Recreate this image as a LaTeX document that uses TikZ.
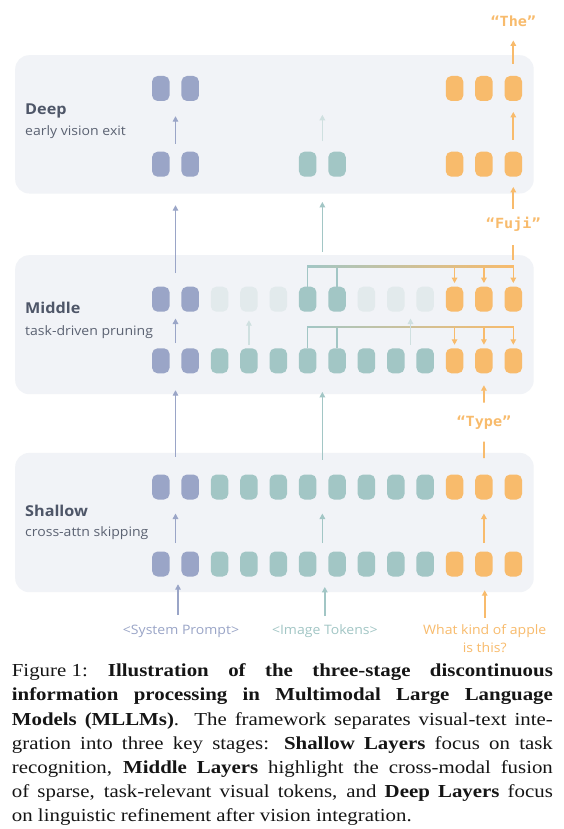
\documentclass[tikz,border=0pt]{standalone}
\usepackage{fontspec}
\usetikzlibrary{arrows.meta,calc}
\newfontfamily\dfont{Open Sans}[FakeStretch=1.08]
\newfontfamily\mfont{DejaVu Sans Mono}[FakeStretch=1.08]
\newfontfamily\capfont{Liberation Serif}[FakeStretch=1.14]
\definecolor{boxbg}{HTML}{F1F3F7}
\definecolor{tokB}{HTML}{9AA5C7}
\definecolor{tokT}{HTML}{A2C6C5}
\definecolor{tokO}{HTML}{F8BB6C}
\definecolor{tokF}{HTML}{E2EAEC}
\definecolor{fArr}{HTML}{CFE0E0}
\definecolor{ttlc}{HTML}{4E5668}
\definecolor{subc}{HTML}{5B6272}
\definecolor{capc}{HTML}{151515}
\begin{document}
\begin{tikzpicture}[x=1pt,y=-1pt,
  tok/.style={rectangle, rounded corners=5.5pt, minimum width=17.5pt, minimum height=25pt, inner sep=0pt, draw=none},
  stagebox/.style={rectangle, rounded corners=14pt, fill=boxbg, draw=none, minimum width=518.5pt, inner sep=0pt, anchor=north west},
  arr/.style={line width=1.7pt, -{Triangle[length=5.5pt,width=5.5pt]}},
  barr/.style={arr, draw=tokB},
  tarr/.style={arr, draw=tokT},
  oarr/.style={arr, draw=tokO},
  farr/.style={arr, draw=fArr, line width=1.3pt},
  tline/.style={draw=tokT, line width=1.3pt},
  oline/.style={draw=tokO, line width=1.7pt},
  ttl/.style={font=\dfont\bfseries\fontsize{15}{16}\selectfont, text=ttlc, anchor=base west, inner sep=0pt},
  subl/.style={font=\dfont\fontsize{13}{15}\selectfont, text=subc, anchor=base west, inner sep=0pt},
  inlab/.style={font=\dfont\fontsize{13}{16}\selectfont, anchor=base, inner sep=0pt},
  qlab/.style={font=\mfont\bfseries\fontsize{14}{16}\selectfont, text=tokO, anchor=base, inner sep=0pt}
]
\useasboundingbox (0,0) rectangle (563,829);
\fill[white] (0,0) rectangle (563,829);

% stage boxes
\node[stagebox, minimum height=138.3pt] (deep) at (15,55) {};
\node[stagebox, minimum height=139pt] (middle) at (15,255) {};
\node[stagebox, minimum height=139.3pt] (shallow) at (15,452.7) {};

% stage titles
\node[ttl] (tDeep) at (25,114.3) {Deep};
\node[subl] (sDeep) at (25,135.7) {early vision exit};
\node[ttl] (tMid) at (25,313.3) {Middle};
\node[subl] (sMid) at (25,335) {task-driven pruning};
\node[ttl] (tSha) at (25,516.7) {Shallow};
\node[subl] (sSha) at (25,536.7) {cross-attn skipping};

% tokens
\foreach \k/\c in {0/tokB,1/tokB,10/tokO,11/tokO,12/tokO}
  \node[tok, fill=\c] (dT\k) at ({160.8+29.375*\k},88.5) {};
\foreach \k/\c in {0/tokB,1/tokB,5/tokT,6/tokT,10/tokO,11/tokO,12/tokO}
  \node[tok, fill=\c] (dB\k) at ({160.8+29.375*\k},164.2) {};
\foreach \k/\c in {0/tokB,1/tokB,2/tokF,3/tokF,4/tokF,5/tokT,6/tokT,7/tokF,8/tokF,9/tokF,10/tokO,11/tokO,12/tokO}
  \node[tok, fill=\c] (mT\k) at ({160.8+29.375*\k},299.2) {};
\foreach \k/\c in {0/tokB,1/tokB,2/tokT,3/tokT,4/tokT,5/tokT,6/tokT,7/tokT,8/tokT,9/tokT,10/tokO,11/tokO,12/tokO}
  \node[tok, fill=\c] (mB\k) at ({160.8+29.375*\k},360.8) {};
\foreach \k/\c in {0/tokB,1/tokB,2/tokT,3/tokT,4/tokT,5/tokT,6/tokT,7/tokT,8/tokT,9/tokT,10/tokO,11/tokO,12/tokO}
  \node[tok, fill=\c] (sT\k) at ({160.8+29.375*\k},487) {};
\foreach \k/\c in {0/tokB,1/tokB,2/tokT,3/tokT,4/tokT,5/tokT,6/tokT,7/tokT,8/tokT,9/tokT,10/tokO,11/tokO,12/tokO}
  \node[tok, fill=\c] (sB\k) at ({160.8+29.375*\k},564) {};

% quoted output words
\node[qlab] (qThe) at (513.3,26.5) {“The”};
\node[qlab] (qFuji) at (513.3,228) {“Fuji”};
\node[qlab] (qType) at (483.9,426.5) {“Type”};

% input labels
\node[inlab, text=tokB] (ipS) at (181,634) {<System Prompt>};
\node[inlab, text=tokT] (ipI) at (324.8,634) {<Image Tokens>};
\node[inlab, text=tokO] (ipQ) at (484.7,634) {What kind of apple};
\node[inlab, text=tokO] (ipQb) at (484.7,652) {is this?};

% ---- Deep stage arrows
\draw[barr, shorten <=7.7pt, shorten >=15pt] ($(dB0.north)!.5!(dB1.north)$) -- ($(dT0.south)!.5!(dT1.south)$);
\draw[farr, shorten <=10pt] ($(dB5.north)!.5!(dB6.north)$) -- ++(0,-36.7);
\draw[oarr, shorten <=11.7pt, shorten >=10.7pt] (dB12.north) -- (dT12.south);
\draw[oarr, shorten <=12pt, shorten >=13.5pt] (dT12.north) -- (qThe.south);
\draw[oarr, shorten <=7.8pt, shorten >=10pt] (qFuji.north) -- (dB12.south);

% ---- Middle to Deep
\draw[barr, shorten <=13.4pt, shorten >=28.3pt] ($(mT0.north)!.5!(mT1.north)$) -- ($(dB0.south)!.5!(dB1.south)$);
\draw[tarr, shorten <=35pt, shorten >=25pt] ($(mT5.north)!.5!(mT6.north)$) -- ($(dB5.south)!.5!(dB6.south)$);

% ---- Middle brackets
\coordinate (tb) at ($(mT5.north)+(0,-20)$);
\draw[oline, shorten <=14pt, shorten >=6.7pt] (qFuji.south) -- (mT12.north |- tb);
\draw[tline] (mT5.north) -- (mT5.north |- tb);
\draw[tline] (mT6.north) -- (mT6.north |- tb);
\shade[left color=tokT, right color=tokO] ($(mT5.north |- tb)+(-0.65,-0.65)$) rectangle ($(mT12.north |- tb)+(0.65,0.65)$);
\foreach \k in {10,11,12}
  \draw[oarr, line width=1.3pt, shorten >=3.4pt] (mT\k.north |- tb) -- (mT\k.north);

\coordinate (bb) at ($(mB5.north)+(0,-21)$);
\draw[tline] (mB5.north) -- (mB5.north |- bb);
\draw[tline] (mB6.north) -- (mB6.north |- bb);
\shade[left color=tokT, right color=tokO] ($(mB5.north |- bb)+(-0.65,-0.65)$) rectangle ($(mB12.north |- bb)+(0.65,0.65)$);
\foreach \k in {10,11,12}
  \draw[oarr, line width=1.3pt, shorten >=3.3pt] (mB\k.north |- bb) -- (mB\k.north);

% ---- Middle inner arrows
\draw[barr, shorten <=5pt, shorten >=6.6pt] ($(mB0.north)!.5!(mB1.north)$) -- ($(mT0.south)!.5!(mT1.south)$);
\draw[farr, shorten <=3.3pt, shorten >=8.3pt] (mB3.north) -- (mT3.south);
\draw[farr, shorten <=3.3pt, shorten >=6.6pt] ($(mB8.north)!.5!(mB9.north)$) -- ($(mT8.south)!.5!(mT9.south)$);
\draw[oarr, shorten <=13pt, shorten >=11.7pt] (qType.north) -- (mB11.south);

% ---- Shallow to Middle
\draw[barr, shorten <=17.8pt, shorten >=16.7pt] ($(sT0.north)!.5!(sT1.north)$) -- ($(mB0.south)!.5!(mB1.south)$);
\draw[tarr, shorten <=14.5pt, shorten >=18.4pt] ($(sT5.north)!.5!(sT6.north)$) -- ($(mB5.south)!.5!(mB6.south)$);
\draw[oline, shorten <=16.2pt, shorten >=11.9pt] (sT11.north) -- (qType.south);

% ---- Shallow inner arrows
\draw[barr, shorten <=8.2pt, shorten >=13.8pt] ($(sB0.north)!.5!(sB1.north)$) -- ($(sT0.south)!.5!(sT1.south)$);
\draw[tarr, shorten <=8.2pt, shorten >=13.8pt] ($(sB5.north)!.5!(sB6.north)$) -- ($(sT5.south)!.5!(sT6.south)$);
\draw[oarr, shorten <=8.2pt, shorten >=13.8pt] (sB11.north) -- (sT11.south);

% ---- Inputs
\draw[barr, shorten <=9.7pt, shorten >=7.5pt] ([xshift=-3pt]ipS.north) -- ([xshift=-3pt]ipS.north |- sB0.south);
\draw[tarr, shorten <=7.8pt, shorten >=10.2pt] (ipI.north) -- (ipI.north |- sB5.south);
\draw[oarr, shorten <=6pt, shorten >=13.5pt] (ipQ.north) -- (ipQ.north |- sB11.south);

% ---- Caption
\node[anchor=base west, inner sep=0pt, text=capc] (cap) at (11.7,676.7) {\parbox[t]{541pt}{\capfont\fontsize{18.3}{24.2}\selectfont
\hyphenpenalty=10000 \exhyphenpenalty=10000 \emergencystretch=20pt
\mbox{Figure 1:}\hspace{1.1em}\textbf{Illustration of the three-stage discontinuous}\linebreak
\textbf{information processing in Multimodal Large Language}\linebreak
\textbf{Models (MLLMs)}. The framework separates visual-text inte-\linebreak
gration into three key stages: \textbf{Shallow Layers} focus on task\linebreak
recognition, \textbf{Middle Layers} highlight the cross-modal fusion\linebreak
of sparse, task-relevant visual tokens, and \textbf{Deep Layers} focus\linebreak
on linguistic refinement after vision integration.}};
\end{tikzpicture}
\end{document}
